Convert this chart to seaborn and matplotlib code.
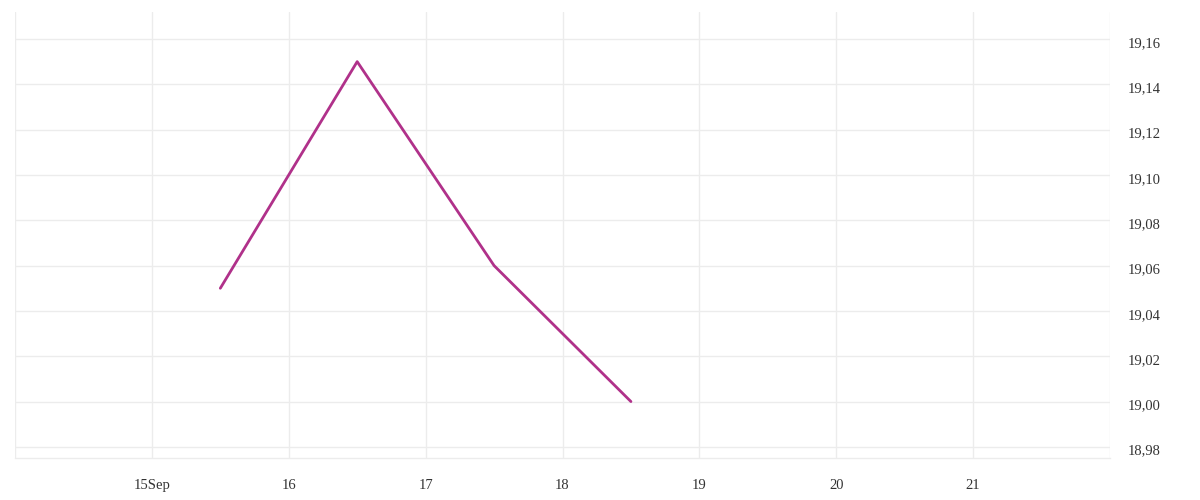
import pandas as pd
import matplotlib
matplotlib.use('Agg')
import matplotlib.pyplot as plt
import matplotlib.ticker as mticker
import matplotlib.transforms as mtransforms
import seaborn as sns

# Values (half-day points, Sep 2024)
timestamps = ['2024-09-15 12:00', '2024-09-16 12:00', '2024-09-17 12:00', '2024-09-18 12:00']
prices = [19.05, 19.15, 19.06, 19.00]

tick_days = ['2024-09-14', '2024-09-15', '2024-09-16', '2024-09-17', '2024-09-18',
             '2024-09-19', '2024-09-20', '2024-09-21', '2024-09-22']
tick_labels = ['', '15Sep', '16', '17', '18', '19', '20', '21', '']
y_ticks = [18.98, 19.00, 19.02, 19.04, 19.06, 19.08, 19.10, 19.12, 19.14, 19.16]

df = pd.DataFrame({'time': pd.to_datetime(timestamps), 'price': prices})

sns.set_style('white')
plt.rcParams['font.family'] = ['Liberation Serif', 'DejaVu Serif']

fig = plt.figure(figsize=(12, 5), dpi=100)
ax = fig.add_axes([0.0125, 0.084, 0.9125, 0.892])

sns.lineplot(data=df, x='time', y='price', color='#b0318a', linewidth=2, ax=ax)

grid_col = '#ececec'
ax.set_xlim(pd.Timestamp(tick_days[0]), pd.Timestamp(tick_days[-1]))
ax.set_xticks(pd.to_datetime(tick_days))
ax.set_xticklabels(tick_labels)
ax.set_ylim(18.9751, 19.1719)
ax.set_yticks(y_ticks)
ax.yaxis.set_major_formatter(mticker.FuncFormatter(lambda v, p: f'{v:.2f}'.replace('.', ',')))
ax.yaxis.tick_right()

ax.grid(True, color=grid_col, linewidth=1)
for s in ['top', 'left', 'right']:
    ax.spines[s].set_visible(False)
ax.spines['bottom'].set_color(grid_col)
ax.spines['bottom'].set_linewidth(1)

ax.tick_params(axis='x', length=7.5, width=1, color=grid_col, labelsize=10.5, labelcolor='#333333', pad=7.5)
ax.tick_params(axis='y', length=0, labelsize=10.5, labelcolor='#333333', pad=13)
ax.set_xlabel('')
ax.set_ylabel('')

# nudge y labels slightly down like the reference
shift = mtransforms.ScaledTranslation(0, -2 / 72, fig.dpi_scale_trans)
for lbl in ax.get_yticklabels():
    lbl.set_transform(lbl.get_transform() + shift)

fig.savefig('out.png', dpi=100)
